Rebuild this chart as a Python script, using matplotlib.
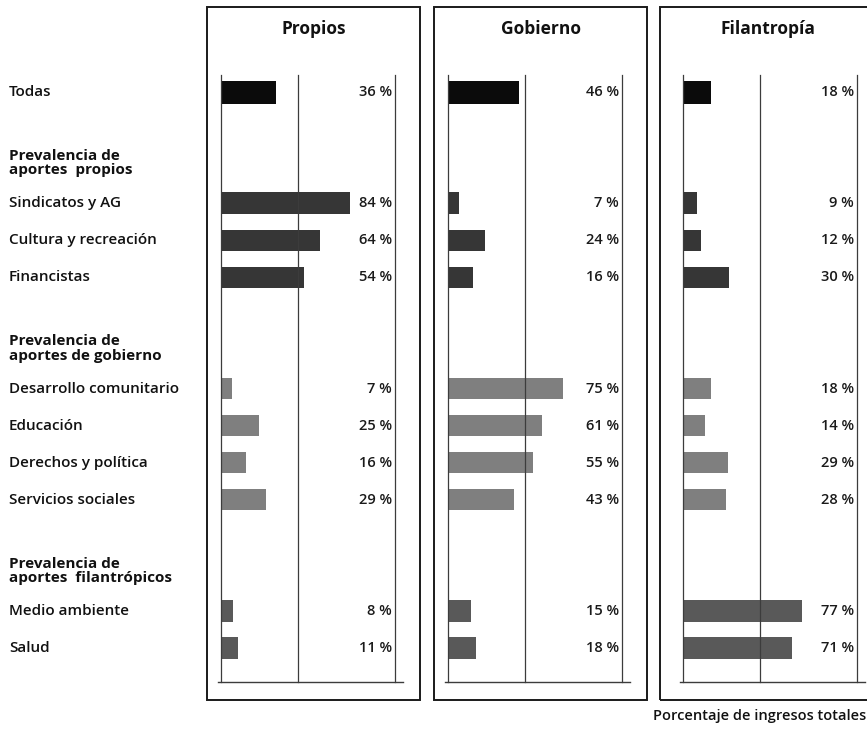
import matplotlib
matplotlib.use("Agg")
import matplotlib.pyplot as plt
import matplotlib.transforms as mtransforms
from matplotlib.patches import Rectangle

# Datos: participación de cada fuente en los ingresos totales (%)
todas = {"Propios": 36, "Gobierno": 46, "Filantropía": 18}

grupos = [
    "Prevalencia de\naportes  propios",
    "Prevalencia de\naportes de gobierno",
    "Prevalencia de\naportes  filantrópicos",
]
categorias_propios = ["Sindicatos y AG", "Cultura y recreación", "Financistas"]
categorias_gobierno = ["Desarrollo comunitario", "Educación", "Derechos y política", "Servicios sociales"]
categorias_filantropia = ["Medio ambiente", "Salud"]

propios = [84, 64, 54, 7, 25, 16, 29, 8, 11]
gobierno = [7, 24, 16, 75, 61, 55, 43, 15, 18]
filantropia = [9, 12, 30, 18, 14, 29, 28, 77, 71]

paneles = ["Propios", "Gobierno", "Filantropía"]
colores_grupo = ["#363636", "#7f7f7f", "#595959"]
color_todas = "#0b0b0b"

FONT = "Open Sans"
W, H = 867, 732

# posiciones verticales: "Todas" arriba y cada grupo separado por un hueco
filas_grupo = [categorias_propios, categorias_gobierno, categorias_filantropia]
pos, colores, inicio_grupo = [], [], []
y = 0
for g, filas in enumerate(filas_grupo):
    y += 3
    inicio_grupo.append(y)
    for i in range(len(filas)):
        pos.append(y + i)
        colores.append(colores_grupo[g])
    y += len(filas) - 1

etiquetas = categorias_propios + categorias_gobierno + categorias_filantropia
valores = [propios, gobierno, filantropia]

fig = plt.figure(figsize=(W / 100, H / 100), dpi=100)
fig.patch.set_facecolor("white")

XMAX = 113
ax_left = [221, 448, 683]
ax_w = 174
ax_top, ax_bot = 75, 682
frames = [(207, 420), (434, 647), (660, 880)]

axes = []
for k, panel in enumerate(paneles):
    ax = fig.add_axes([ax_left[k] / W, 1 - ax_bot / H, ax_w / W, (ax_bot - ax_top) / H])
    ax.set_xlim(0, XMAX)
    ax.set_ylim(15.92, -0.46)
    ax.axis("off")

    # barras
    ax.barh(0, todas[panel], height=0.62, color=color_todas, zorder=2)
    ax.barh(pos, valores[k], height=0.58, color=colores, zorder=2)

    # líneas de referencia
    for xv in (0, 50, XMAX):
        ax.plot([xv, xv], [-0.46, 15.92], color="#3c3c3c", lw=0.9, zorder=3, clip_on=False)
    ax.plot([-2, XMAX + 5], [15.92, 15.92], color="#3c3c3c", lw=1.0, zorder=3, clip_on=False)

    # etiquetas de porcentaje
    off = mtransforms.offset_copy(ax.transData, fig=fig, x=-3, y=0, units="dots")
    ax.text(XMAX, 0, f"{todas[panel]} %", transform=off, ha="right", va="center",
            fontsize=10.5, family=FONT, fontweight="semibold", color="#1a1a1a")
    for p, v in zip(pos, valores[k]):
        ax.text(XMAX, p, f"{v} %", transform=off, ha="right", va="center",
                fontsize=10.5, family=FONT, fontweight="semibold", color="#1a1a1a")

    # marco y título del panel
    x0, x1 = frames[k]
    fig.patches.append(Rectangle((x0 / W, 1 - 700 / H), (x1 - x0) / W, (700 - 7) / H,
                                 transform=fig.transFigure, fill=False,
                                 edgecolor="#1a1a1a", lw=1.4))
    fig.text(((x0 + min(x1, 867)) / 2 + (4 if k == 2 else 0)) / W, 1 - 29 / H, panel,
             ha="center", va="center", fontsize=12.5, family=FONT, fontweight="bold",
             color="#111111")
    axes.append(ax)

# etiquetas de filas a la izquierda
trans = mtransforms.blended_transform_factory(fig.transFigure, axes[0].transData)
fig.text(9 / W, 0, "Todas", transform=trans, ha="left", va="center",
         fontsize=11, family=FONT, fontweight="semibold", color="#111111")
for p, lab in zip(pos, etiquetas):
    fig.text(9 / W, p, lab, transform=trans, ha="left", va="center",
             fontsize=11, family=FONT, fontweight="semibold", color="#111111")
for g, titulo in enumerate(grupos):
    fig.text(9 / W, inicio_grupo[g] - 1.08, titulo, transform=trans, ha="left", va="center",
             fontsize=11, family=FONT, fontweight="bold", color="#111111", linespacing=1.05)

fig.text(866 / W, 1 - 716 / H, "Porcentaje de ingresos totales", ha="right", va="center",
         fontsize=10.5, family=FONT, fontweight="semibold", color="#111111")

fig.savefig("out.png", dpi=100, facecolor="white")
